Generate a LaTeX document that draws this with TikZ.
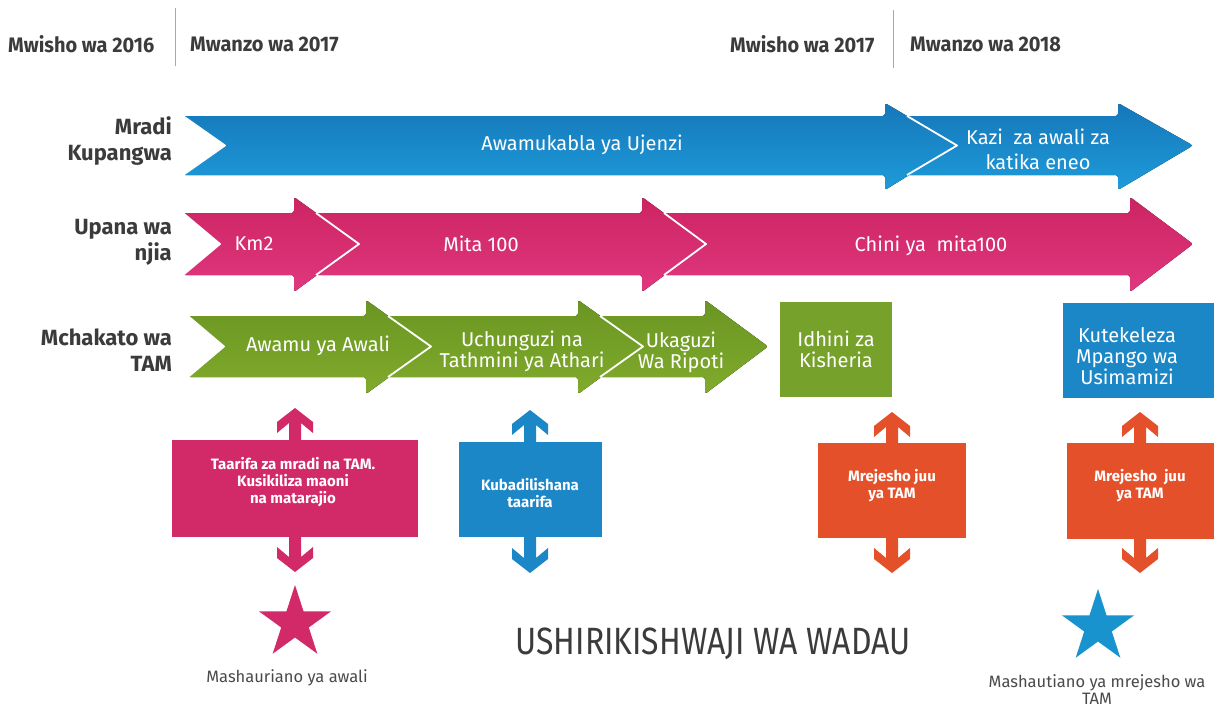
\documentclass[tikz,border=0pt]{standalone}
\usepackage{fontspec}
\setmainfont{Fira Sans}
\usetikzlibrary{shapes.geometric}
\definecolor{textgray}{HTML}{3B3B3B}
\definecolor{labelgray}{HTML}{4A4A4A}
\definecolor{sepgray}{HTML}{A8A8A8}
\definecolor{bluetop}{HTML}{1577B9}
\definecolor{bluebot}{HTML}{1E9BDA}
\definecolor{pinktop}{HTML}{CC2462}
\definecolor{pinkbot}{HTML}{E0377F}
\definecolor{greentop}{HTML}{6A9522}
\definecolor{greenbot}{HTML}{80AB2C}
\definecolor{pinkbox}{HTML}{D22A68}
\definecolor{bluebox}{HTML}{1C87C7}
\definecolor{greenbox}{HTML}{76A12A}
\definecolor{orangebox}{HTML}{E4502A}
\begin{document}
\begin{tikzpicture}[x=1pt,y=-1pt,
    yearlabel/.style={font=\bfseries\fontsize{21}{24}\selectfont, text=textgray, inner sep=0pt, anchor=west, xscale=.95},
    rowlabel/.style={font=\bfseries\fontsize{22}{26}\selectfont, text=textgray, inner sep=0pt, align=right, anchor=east},
    arrowtext/.style={font=\fontsize{20}{21}\selectfont, text=white, inner sep=0pt, align=center},
    bluearrow/.style={top color=bluetop, bottom color=bluebot, rounded corners=2.5pt},
    pinkarrow/.style={top color=pinktop, bottom color=pinkbot, rounded corners=2.5pt},
    greenarrow/.style={top color=greentop, bottom color=greenbot, rounded corners=2.5pt},
    notch/.style={draw=white, line width=1.8pt, line join=round},
    box/.style={inner sep=0pt},
    boxtext/.style={inner sep=0pt, align=center, text=white, font=\bfseries\fontsize{15}{17}\selectfont},
    stage/.style={inner sep=0pt, align=center, text=white, font=\fontsize{20}{21}\selectfont},
    starlabel/.style={font=\fontsize{16.5}{17}\selectfont, text=labelgray, inner sep=0pt, align=center}]
    \useasboundingbox[fill=white] (0,0) rectangle (1214,712);
    % years
    \node[yearlabel] (end16) at (8,44) {Mwisho wa 2016};
    \node[yearlabel] (start17) at (190,44) {Mwanzo wa 2017};
    \node[yearlabel] (end17) at (730,44) {Mwisho wa 2017};
    \node[yearlabel] (start18) at (910,44) {Mwanzo wa 2018};
    \draw[sepgray, line width=1pt] (175,8) -- (175,66);
    \draw[sepgray, line width=1pt] (893,10) -- (893,68);
    % row labels
    \node[rowlabel] (mradi) at (172,141) {Mradi\\Kupangwa};
    \node[rowlabel] (upana) at (172,242) {Upana wa\\njia};
    \node[rowlabel] (mchakato) at (172,350) {Mchakato wa\\TAM};
    % Mradi Kupangwa
    \foreach \xl/\xn/\xb/\xt in {183/225/885/957, 907/957/1118/1193}
        {
            \fill[bluearrow] (\xl,116) -- (\xn,145.5) -- (\xl,175) -- (\xb,175) -- (\xb,190) -- (\xt,145.5) -- (\xb,103) -- (\xb,116) -- cycle;
            \draw[notch] (\xl,116) -- (\xn,145.5) -- (\xl,175);
        }
    % Upana wa njia
    \foreach \xl/\xn/\xb/\xt in {183/220/294/359, 316/359/642/706, 664/706/1130/1193}
        {
            \fill[pinkarrow] (\xl,213) -- (\xn,244) -- (\xl,275) -- (\xb,275) -- (\xb,292) -- (\xt,244) -- (\xb,197) -- (\xb,213) -- cycle;
            \draw[notch] (\xl,213) -- (\xn,244) -- (\xl,275);
        }
    % Mchakato wa TAM
    \foreach \xl/\xn/\xb/\xt in {188/224/366/431, 388/431/578/643, 600/643/705/768}
        {
            \fill[greenarrow] (\xl,316) -- (\xn,346.5) -- (\xl,377) -- (\xb,377) -- (\xb,394) -- (\xt,346.5) -- (\xb,300) -- (\xb,316) -- cycle;
            \draw[notch] (\xl,316) -- (\xn,346.5) -- (\xl,377);
        }
    \node[arrowtext] (kabla) at (582,145) {Awamukabla ya Ujenzi};
    \node[arrowtext, font=\fontsize{20}{25}\selectfont] (kazi) at (1038,149) {Kazi\ \ za awali za\\katika eneo};
    \node[arrowtext] (km) at (254,244) {Km2};
    \node[arrowtext] (mita) at (481,244) {Mita 100};
    \node[arrowtext] (chini) at (931,246) {Chini ya\ \ mita100};
    \node[arrowtext] (awali) at (318,346) {Awamu ya Awali};
    \node[arrowtext] (uchunguzi) at (522,351) {Uchunguzi na\\Tathmini ya Athari};
    \node[arrowtext] (ukaguzi) at (681,352) {Ukaguzi\\Wa Ripoti};
    \node[stage, fill=greenbox, minimum width=112pt, minimum height=95pt] (idhini) at (836,349.5) {Idhini za\\Kisheria};
    \node[box, fill=bluebox, minimum width=151pt, minimum height=95pt] (usimamizi) at (1138.5,350.5) {};
    \node[stage] (usimamiziText) at (1127,356) {Kutekeleza\\Mpango wa\\Usimamizi};
    % two-way arrows
    \foreach \cx/\t/\b/\col in {295/408/572/pinkbox, 530/410/573/bluebox, 892/412/573/orangebox, 1140/412/573/orangebox}
        {
            \fill[\col] (\cx,\t) -- (\cx+18,\t+14) -- (\cx+18,\t+25) -- (\cx+6,\t+15) -- (\cx+6,\b-15) -- (\cx+18,\b-25) -- (\cx+18,\b-14) -- (\cx,\b)
                -- (\cx-18,\b-14) -- (\cx-18,\b-25) -- (\cx-6,\b-15) -- (\cx-6,\t+15) -- (\cx-18,\t+25) -- (\cx-18,\t+14) -- cycle;
        }
    \node[box, fill=pinkbox, minimum width=246pt, minimum height=97pt] (taarifa) at (295,488.5) {};
    \node[box, fill=bluebox, minimum width=143pt, minimum height=95pt] (kubadili) at (530.5,489.5) {};
    \node[box, fill=orangebox, minimum width=148pt, minimum height=95pt] (mrejeshoA) at (892,490.5) {};
    \node[box, fill=orangebox, minimum width=147pt, minimum height=96pt] (mrejeshoB) at (1140.5,491) {};
    \node[boxtext] (taarifaText) at (293,482) {Taarifa za mradi na TAM.\\Kusikiliza maoni\\na matarajio};
    \node[boxtext] (kubadiliText) at (530,493) {Kubadilishana\\taarifa};
    \node[boxtext] (mrejeshoAText) at (892,486) {Mrejesho juu\\ya TAM};
    \node[boxtext] (mrejeshoBText) at (1140,486) {Mrejesho\ \ juu\\ya TAM};
    % stars
    \node[star, star points=5, star point ratio=2.62, minimum size=76pt, inner sep=0pt, fill=pinkbox] (starA) at (295,623) {};
    \node[star, star points=5, star point ratio=2.62, minimum size=76pt, inner sep=0pt, fill=bluebox!90!cyan] (starB) at (1098,627) {};
    \node[starlabel] (awaliLabel) at (287,678) {Mashauriano ya awali};
    \node[starlabel] (mrejeshoLabel) at (1097,690) {Mashautiano ya mrejesho wa\\TAM};
    \node[font=\fontsize{38}{40}\selectfont, text=textgray, inner sep=0pt, xscale=.84] (wadau) at (713,644) {USHIRIKISHWAJI WA WADAU};
\end{tikzpicture}
\end{document}
